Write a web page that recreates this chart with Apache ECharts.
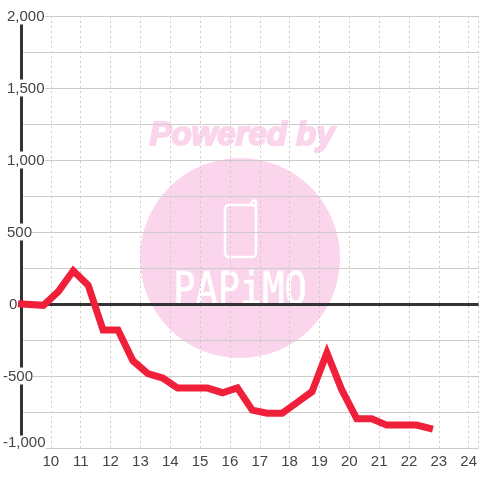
<!DOCTYPE html>
<html><head><meta charset="utf-8">
<style>html,body{margin:0;padding:0;background:#fff}#c{width:480px;height:480px}</style>
<script src="https://cdn.jsdelivr.net/npm/echarts@6/dist/echarts.min.js"></script>
</head><body><div id="c"></div>
<script>
var hours = [8.9,9.75,10.25,10.75,11.25,11.75,12.25,12.75,13.25,13.75,14.25,14.75,15.25,15.75,16.25,16.75,17.25,17.75,18.25,18.75,19.25,19.75,20.25,20.75,21.25,21.75,22.25,22.8];
var values = [2,-9,86,231,131,-181,-181,-394,-484,-514,-584,-584,-584,-616,-582,-737,-759,-759,-684,-609,-339,-597,-797,-797,-841,-841,-841,-869];
var zeroLine = [0];
var chart = echarts.init(document.getElementById('c'), null, {renderer:'canvas'});
var font = '"Liberation Sans", Arial, sans-serif';
var pink = '#fbd5ec';
function fmtY(v){
  var s = Math.abs(v).toLocaleString('en-US');
  if (v === -1000) return '{low|-' + s + '}';
  if (v < 0) return '{neg|-' + s + '}';
  if (v === 0) return '{zero|0}';
  return '{pos|' + s + '}';
}
var tok = {fontFamily:font,fontSize:15,color:'#444',backgroundColor:'#fff'};
function t(p){ return Object.assign({}, tok, {padding:p}); }
chart.setOption({
  animation:false,
  backgroundColor:'#fff',
  grid:{left:20,right:0,top:16,height:432,containLabel:false},
  graphic:{elements:[
    {type:'circle',z:-10,silent:true,shape:{cx:240,cy:258,r:100},style:{fill:pink}},
    {type:'text',z:-10,silent:true,x:242,y:136,style:{text:'Powered by',fill:pink,stroke:pink,lineWidth:2,font:'italic bold 33px "Liberation Sans", sans-serif',align:'center',verticalAlign:'middle'}},
    {type:'rect',z:-9,silent:true,shape:{x:225,y:205,width:31,height:52,r:4},style:{fill:'none',stroke:'#fff',lineWidth:2.5}},
    {type:'polyline',z:-9,silent:true,shape:{points:[[250,205],[254,200],[256,201],[256,212]]},style:{fill:'none',stroke:'#fff',lineWidth:2.5,lineJoin:'round'}},
    {type:'text',z:-9,silent:true,x:240,y:292,scaleY:1.2,style:{text:'PAPiMO',fill:'#fff',stroke:'#fff',lineWidth:0.6,font:'37px "DejaVu Sans Mono", monospace',align:'center',verticalAlign:'middle'}}
  ]},
  xAxis:{type:'value',min:9,max:24.3333,interval:1,
    axisLine:{show:false},axisTick:{show:false},
    axisLabel:{fontFamily:font,fontSize:15,color:'#444',margin:6,showMinLabel:false,showMaxLabel:false,hideOverlap:false},
    splitLine:{show:true,lineStyle:{color:'#ccc',type:[2,3],width:1}}},
  yAxis:{type:'value',min:-1000,max:2000,interval:500,
    axisLine:{show:true,onZero:false,lineStyle:{color:'#333',width:3}},axisTick:{show:false},
    axisLabel:{align:'left',margin:18,formatter:fmtY,showMinLabel:true,showMaxLabel:true,
      rich:{pos:t([2,0,0,4]),zero:t([2,0,0,6]),neg:t([2,0,0,0]),low:t([0,0,10,0])}},
    splitLine:{show:true,lineStyle:{color:'#ccc',width:1}},
    minorTick:{show:false,splitNumber:2},
    minorSplitLine:{show:true,lineStyle:{color:'#ccc',width:1}}},
  series:[{type:'line',symbol:'none',z:5,clip:false,
    data:hours.map(function(h,i){return [h,values[i]];}),
    lineStyle:{color:'#f0203a',width:7,join:'miter',miterLimit:10,cap:'butt'},
    markLine:{silent:true,symbol:'none',z:3,label:{show:false},animation:false,
      lineStyle:{color:'#333',width:3,type:'solid'},
      data:zeroLine.map(function(v){return {yAxis:v};})}
  }]
});
</script></body></html>
